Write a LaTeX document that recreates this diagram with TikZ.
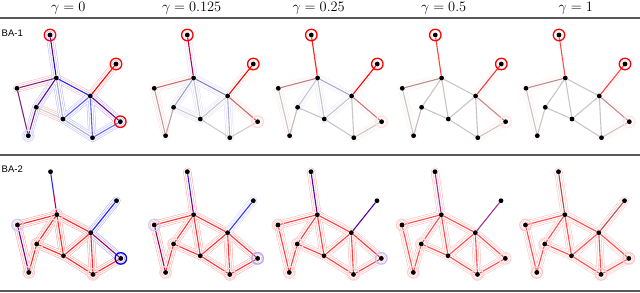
\documentclass[tikz,border=0pt]{standalone}
\usepackage{fontspec}
\setsansfont{Liberation Sans}
\usetikzlibrary{calc, backgrounds}

\tikzset{
  vertex/.style={circle, fill=black, inner sep=0pt, minimum size=4.8pt},
  link/.style={line width=1.1pt},
  hl/.style={circle, draw=#1, line width=1.3pt, inner sep=0pt, minimum size=11.5pt},
  walkout/.style={draw=#1, line width=8.2pt, line cap=round, line join=round},
  walkin/.style={draw=white, line width=7.2pt, line cap=round, line join=round},
  walkmid/.style={draw=#1, line width=4.8pt, line cap=round, line join=round},
  walkcore/.style={draw=white, line width=3.8pt, line cap=round, line join=round},
  gammahead/.style={font=\fontsize{13.5}{15}\selectfont, anchor=base, inner sep=0pt},
  rowlabel/.style={font=\sffamily\fontsize{9.5}{11}\selectfont, anchor=west, inner sep=0pt},
  hrule/.style={draw=gray!70!black, line width=1.2pt}
}

% the ten vertices of one graph, placed from its top vertex
\newcommand{\bagraph}[3]{%
  \foreach \n/\dx/\dy in {a/0/0, b/66/29, c/6.3/43, d/-33/53.3, e/40.3/61,
      f/-13.7/72.3, g/13/84, h/70.3/86.7, i/-21.7/100.7, j/42.5/102.7}
    \node[vertex] (#1\n) at (#2+\dx, #3+\dy) {};
}
% relevant walks as outlined tubes
\newcommand{\walks}[3]{%
  \foreach \u/\v in {#3} \draw[walkout=#2] (#1\u.center) -- (#1\v.center);
  \foreach \u/\v in {#3} \draw[walkin] (#1\u.center) -- (#1\v.center);
  \foreach \u/\v in {#3} \draw[walkmid=#2] (#1\u.center) -- (#1\v.center);
  \foreach \u/\v in {#3} \draw[walkcore] (#1\u.center) -- (#1\v.center);
}
\newcommand{\links}[2]{%
  \foreach \u/\v/\col in {#2} \draw[link, draw=\col] (#1\u) -- (#1\v);
}
% top edge, two colours
\newcommand{\splitlink}[3]{%
  \coordinate (#1m) at ($(#1a)!0.5!(#1c)$);
  \draw[link, draw=#2] (#1a) -- (#1m);
  \draw[link, draw=#3] (#1m) -- (#1c);
}

\begin{document}
\begin{tikzpicture}[x=1pt, y=-1pt]
  \useasboundingbox (0,0) rectangle (640,292);

  % === Headers and rules ===
  \node[gammahead] (g0) at (68.3, 11.9) {$\gamma = 0$};
  \node[gammahead] (g1) at (191.7, 11.9) {$\gamma = 0.125$};
  \node[gammahead] (g2) at (318.7, 11.9) {$\gamma = 0.25$};
  \node[gammahead] (g3) at (443.7, 11.9) {$\gamma = 0.5$};
  \node[gammahead] (g4) at (575.8, 11.9) {$\gamma = 1$};
  \draw[hrule] (0,18) -- (640,18);
  \draw[hrule] (0,155) -- (640,155);
  \draw[hrule] (0,291) -- (640,291);

  \node[rowlabel] (ba1) at (1.5, 33) {BA-1};
  \node[rowlabel] (ba2) at (1.5, 169.5) {BA-2};

  % === BA-1 ===
  % gamma = 0
  \bagraph{t1}{50}{35}
  \begin{scope}[on background layer]
    \walks{t1}{red!30}{b/e, e/h, c/e, c/d, f/g}
    \walks{t1}{blue!28}{a/c, c/f, c/g, g/e, e/j, j/h, f/i, g/j, e/h}
    \splitlink{t1}{blue!60!red}{blue!80!red}
    \links{t1}{b/e/red, c/d/red!50!blue!70!gray, c/e/blue!85, c/f/blue!60!red,
      c/g/blue!30!gray!50, d/i/red!50!blue!70!gray, f/i/blue!50!red!80!gray, f/g/gray!40,
      g/e/blue!65, g/j/blue!25!gray!50, e/j/blue!65, e/h/blue!55!red, j/h/blue!60}
  \end{scope}
  \node[hl=red] (t1ra) at (t1a) {};
  \node[hl=red] (t1rb) at (t1b) {};
  \node[hl=red] (t1rh) at (t1h) {};
  \node[hl=blue!12] (t1ri) at (t1i) {};

  % gamma = 0.125
  \bagraph{t2}{187.3}{35}
  \begin{scope}[on background layer]
    \walks{t2}{red!13}{c/d, b/e, e/h, c/e, d/i}
    \walks{t2}{blue!13}{a/c, c/e, c/g, g/e, e/j, c/f, f/g}
    \splitlink{t2}{red!80!blue}{red!70!blue}
    \links{t2}{b/e/red, c/d/red!40!gray!80, c/e/blue!40!gray!70, c/f/blue!25!gray!60,
      c/g/gray!45, d/i/red!30!gray!60, f/i/red!30!gray!60, f/g/gray!40,
      g/e/gray!45, g/j/gray!40, e/j/blue!20!gray!50, e/h/red!50!gray!80, j/h/gray!40}
  \end{scope}
  \node[hl=red] (t2ra) at (t2a) {};
  \node[hl=red] (t2rb) at (t2b) {};
  \node[hl=red!15] (t2rh) at (t2h) {};

  % gamma = 0.25
  \bagraph{t3}{311.3}{35}
  \begin{scope}[on background layer]
    \walks{t3}{red!9}{c/d, b/e, e/h, d/i, j/h}
    \walks{t3}{blue!8}{c/e, c/g, g/e, c/f}
    \splitlink{t3}{red!90}{red!90}
    \links{t3}{b/e/red, c/d/red!35!gray!75, c/e/blue!20!gray!55, c/f/gray!45,
      c/g/gray!45, d/i/gray!45, f/i/red!15!gray!50, f/g/gray!45,
      g/e/gray!45, g/j/gray!45, e/j/gray!45, e/h/red!40!gray!75, j/h/gray!45}
  \end{scope}
  \node[hl=red] (t3ra) at (t3a) {};
  \node[hl=red] (t3rb) at (t3b) {};
  \node[hl=red!12] (t3rh) at (t3h) {};

  % gamma = 0.5
  \bagraph{t4}{435.3}{35}
  \begin{scope}[on background layer]
    \walks{t4}{red!7}{c/d, b/e, e/h, d/i, j/h}
    \splitlink{t4}{red!75}{red!75}
    \links{t4}{b/e/red!80, c/d/red!30!gray!70, c/e/gray!45, c/f/gray!45,
      c/g/gray!45, d/i/gray!45, f/i/red!12!gray!50, f/g/gray!45,
      g/e/gray!45, g/j/gray!45, e/j/gray!45, e/h/red!35!gray!70, j/h/gray!45}
  \end{scope}
  \node[hl=red] (t4ra) at (t4a) {};
  \node[hl=red] (t4rb) at (t4b) {};
  \node[hl=red!10] (t4rh) at (t4h) {};

  % gamma = 1
  \bagraph{t5}{559}{35}
  \begin{scope}[on background layer]
    \walks{t5}{red!7}{c/d, b/e, e/h, d/i, j/h}
    \splitlink{t5}{red!70}{red!70}
    \links{t5}{b/e/red!75, c/d/red!30!gray!70, c/e/gray!45, c/f/gray!45,
      c/g/gray!45, d/i/gray!45, f/i/gray!45, f/g/gray!45,
      g/e/gray!45, g/j/gray!45, e/j/gray!45, e/h/red!30!gray!70, j/h/gray!45}
  \end{scope}
  \node[hl=red] (t5ra) at (t5a) {};
  \node[hl=red] (t5rb) at (t5b) {};
  \node[hl=red!10] (t5rh) at (t5h) {};

  % === BA-2 ===
  % gamma = 0
  \bagraph{s1}{50.5}{171.7}
  \begin{scope}[on background layer]
    \walks{s1}{red!40}{c/d, d/i, f/i, c/f, c/g, f/g, g/e, g/j, e/j, c/e, e/h, j/h}
    \walks{s1}{blue!35}{b/e, e/h}
    \splitlink{s1}{blue!85}{red!70!blue}
    \links{s1}{b/e/blue!90, c/d/red!85, c/e/red!85, c/f/red!85,
      c/g/red!85, d/i/blue!50!red, f/i/red!85, f/g/red!85,
      g/e/red!85, g/j/red!85, e/j/red!85, e/h/red!65!blue, j/h/red!85}
  \end{scope}
  \node[hl=blue] (s1rh) at (s1h) {};
  \node[hl=blue!20] (s1rd) at (s1d) {};
  \node[hl=red!18] (s1ri) at (s1i) {};
  \node[hl=red!18] (s1rj) at (s1j) {};
  \node[hl=red!18] (s1rc) at (s1c) {};
  \node[hl=red!18] (s1rf) at (s1f) {};

  % gamma = 0.125
  \bagraph{s2}{187.3}{171.7}
  \begin{scope}[on background layer]
    \walks{s2}{red!35}{a/c, c/d, d/i, f/i, c/f, c/g, f/g, g/e, g/j, e/j, c/e, e/h, j/h}
    \walks{s2}{blue!18}{b/e}
    \splitlink{s2}{blue!85}{blue!55!red}
    \links{s2}{b/e/blue!80, c/d/red!80, c/e/red!80, c/f/red!80,
      c/g/red!80, d/i/red!65!blue, f/i/red!80, f/g/red!80,
      g/e/red!80, g/j/red!80, e/j/red!80, e/h/red!80, j/h/red!80}
  \end{scope}
  \node[hl=blue!35] (s2rh) at (s2h) {};
  \node[hl=blue!20] (s2rd) at (s2d) {};
  \node[hl=red!18] (s2ri) at (s2i) {};
  \node[hl=red!18] (s2rj) at (s2j) {};
  \node[hl=red!18] (s2rf) at (s2f) {};

  % gamma = 0.25
  \bagraph{s3}{311}{171.7}
  \begin{scope}[on background layer]
    \walks{s3}{red!30}{a/c, c/d, d/i, f/i, c/f, c/g, f/g, g/e, g/j, e/j, c/e, e/h, j/h}
    \splitlink{s3}{blue!65!red}{blue!65!red}
    \links{s3}{b/e/blue!65!red, c/d/red!75, c/e/red!75, c/f/red!75,
      c/g/red!75, d/i/red!75, f/i/red!75, f/g/red!75,
      g/e/red!75, g/j/red!75, e/j/red!75, e/h/red!80, j/h/red!75}
  \end{scope}
  \node[hl=blue!25] (s3rh) at (s3h) {};
  \node[hl=red!18] (s3rd) at (s3d) {};
  \node[hl=red!18] (s3ri) at (s3i) {};
  \node[hl=red!18] (s3rj) at (s3j) {};
  \node[hl=red!15] (s3rf) at (s3f) {};

  % gamma = 0.5
  \bagraph{s4}{435}{171.7}
  \begin{scope}[on background layer]
    \walks{s4}{red!28}{a/c, c/d, d/i, f/i, c/f, c/g, f/g, g/e, g/j, e/j, c/e, e/h, j/h}
    \splitlink{s4}{blue!45!red!80}{blue!45!red!80}
    \links{s4}{b/e/blue!45!red!80, c/d/red!70, c/e/red!70, c/f/red!70,
      c/g/red!70, d/i/red!70, f/i/red!70, f/g/red!70,
      g/e/red!70, g/j/red!70, e/j/red!70, e/h/red!70, j/h/red!70}
  \end{scope}
  \node[hl=red!15] (s4rh) at (s4h) {};
  \node[hl=red!18] (s4rd) at (s4d) {};
  \node[hl=red!18] (s4ri) at (s4i) {};
  \node[hl=red!18] (s4rj) at (s4j) {};
  \node[hl=red!15] (s4rf) at (s4f) {};

  % gamma = 1
  \bagraph{s5}{558.5}{171.7}
  \begin{scope}[on background layer]
    \walks{s5}{red!26}{a/c, b/e, c/d, d/i, f/i, c/f, c/g, f/g, g/e, g/j, e/j, c/e, e/h, j/h}
    \splitlink{s5}{red!40!gray}{red!40!gray}
    \links{s5}{b/e/red!40!gray, c/d/red!70, c/e/red!70, c/f/red!70,
      c/g/red!70, d/i/red!70, f/i/red!70, f/g/red!70,
      g/e/red!70, g/j/red!70, e/j/red!70, e/h/red!70, j/h/red!70}
  \end{scope}
  \node[hl=red!22] (s5rh) at (s5h) {};
  \node[hl=red!22] (s5rd) at (s5d) {};
  \node[hl=red!22] (s5ri) at (s5i) {};
  \node[hl=red!22] (s5rj) at (s5j) {};
  \node[hl=red!18] (s5rf) at (s5f) {};
\end{tikzpicture}
\end{document}
